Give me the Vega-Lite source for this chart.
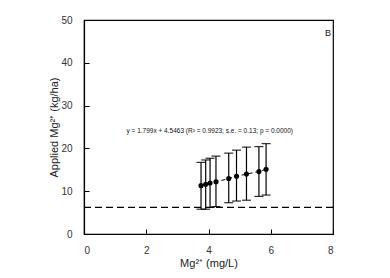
{
  "$schema": "https://vega.github.io/schema/vega-lite/v6.json",
  "width": 249,
  "height": 214,
  "autosize": {"type": "none"},
  "padding": {"left": 84, "top": 20, "right": 57, "bottom": 44},
  "background": "white",
  "config": {
    "font": "Liberation Sans",
    "view": {"stroke": "black", "strokeWidth": 1.2},
    "axis": {
      "grid": false,
      "domainColor": "black",
      "domainWidth": 1.2,
      "tickColor": "black",
      "tickSize": -5,
      "labelFont": "Liberation Sans",
      "labelFontSize": 10,
      "labelColor": "#333333",
      "titleFont": "Liberation Sans",
      "titleFontSize": 11,
      "titleFontWeight": "normal",
      "titleColor": "#222222"
    }
  },
  "datasets": {
    "pts": [
      {"x": 3.76, "y": 11.3, "lo": 5.8, "hi": 16.75},
      {"x": 3.91, "y": 11.6, "lo": 5.8, "hi": 17.3},
      {"x": 4.05, "y": 11.9, "lo": 6.2, "hi": 17.7},
      {"x": 4.24, "y": 12.2, "lo": 6.4, "hi": 18.2},
      {"x": 4.65, "y": 12.95, "lo": 7.3, "hi": 18.9},
      {"x": 4.90, "y": 13.5, "lo": 7.7, "hi": 19.6},
      {"x": 5.22, "y": 14.0, "lo": 7.9, "hi": 20.3},
      {"x": 5.62, "y": 14.6, "lo": 8.8, "hi": 20.4},
      {"x": 5.85, "y": 15.1, "lo": 9.1, "hi": 21.1}
    ]
  },
  "encoding": {
    "x": {"type": "quantitative",
      "scale": {"domain": [0, 8], "nice": false, "zero": false},
      "axis": {"values": [0, 2, 4, 6, 8], "title": "Mg²⁺ (mg/L)", "labelPadding": 16, "titlePadding": 2}},
    "y": {"type": "quantitative",
      "scale": {"domain": [0, 50], "nice": false, "zero": false},
      "axis": {"values": [0, 10, 20, 30, 40, 50], "title": "Applied Mg²⁺ (kg/ha)", "labelPadding": 17, "titlePadding": 1}}
  },
  "layer": [
    {
      "data": {"values": [{"v": 6.2}]},
      "mark": {"type": "rule", "color": "black", "strokeWidth": 1.2, "strokeDash": [7, 4]},
      "encoding": {"y": {"field": "v", "type": "quantitative", "title": "Applied Mg²⁺ (kg/ha)"}}
    },
    {
      "data": {"name": "pts"},
      "mark": {"type": "errorbar", "color": "black", "opacity": 1, "ticks": {"size": 9, "color": "black", "strokeWidth": 1.2, "opacity": 1}, "rule": {"color": "black", "strokeWidth": 1.2, "opacity": 1}},
      "encoding": {
        "x": {"field": "x", "type": "quantitative", "title": "Mg²⁺ (mg/L)"},
        "y": {"field": "lo", "type": "quantitative", "title": "Applied Mg²⁺ (kg/ha)"},
        "y2": {"field": "hi"}
      }
    },
    {
      "data": {"name": "pts"},
      "mark": {"type": "line", "color": "black", "strokeWidth": 1, "strokeDash": [4, 3]},
      "encoding": {
        "x": {"field": "x", "type": "quantitative", "title": "Mg²⁺ (mg/L)"},
        "y": {"field": "y", "type": "quantitative", "title": "Applied Mg²⁺ (kg/ha)"}
      }
    },
    {
      "data": {"name": "pts"},
      "mark": {"type": "point", "filled": true, "color": "black", "size": 26, "opacity": 1},
      "encoding": {
        "x": {"field": "x", "type": "quantitative", "title": "Mg²⁺ (mg/L)"},
        "y": {"field": "y", "type": "quantitative", "title": "Applied Mg²⁺ (kg/ha)"}
      }
    },
    {
      "data": {"values": [{"x": 4.04, "y": 24.1, "t": "y = 1.799x + 4.5463 (R² = 0.9923; s.e. = 0.13; p = 0.0000)"}]},
      "mark": {"type": "text", "fontSize": 6.5, "color": "#111111", "align": "center", "baseline": "middle"},
      "encoding": {
        "x": {"field": "x", "type": "quantitative", "title": "Mg²⁺ (mg/L)"},
        "y": {"field": "y", "type": "quantitative", "title": "Applied Mg²⁺ (kg/ha)"},
        "text": {"field": "t"}
      }
    },
    {
      "data": {"values": [{"x": 7.84, "y": 47.0, "t": "B"}]},
      "mark": {"type": "text", "fontSize": 9, "color": "#111111", "align": "center", "baseline": "middle"},
      "encoding": {
        "x": {"field": "x", "type": "quantitative", "title": "Mg²⁺ (mg/L)"},
        "y": {"field": "y", "type": "quantitative", "title": "Applied Mg²⁺ (kg/ha)"},
        "text": {"field": "t"}
      }
    }
  ]
}
